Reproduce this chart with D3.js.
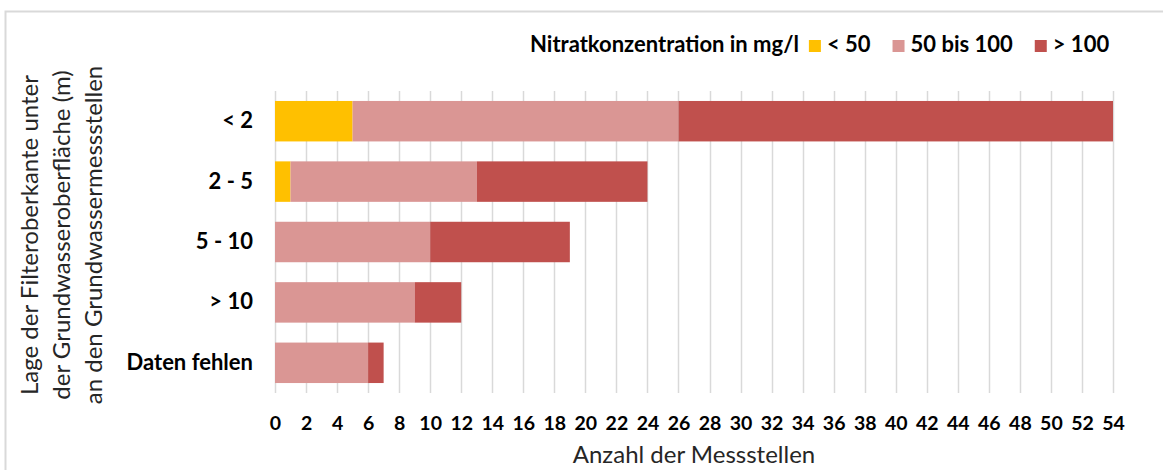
<!DOCTYPE html>
<html>
<head>
<meta charset="utf-8">
<script src="https://cdn.jsdelivr.net/npm/d3@7"></script>
<style>
  body { margin: 0; background: #fff; }
  svg { display: block; font-family: Lato, "Open Sans", sans-serif; }
</style>
</head>
<body>
<div id="chart"></div>
<script>
// categories (top to bottom)
var categories = ["< 2", "2 - 5", "5 - 10", "> 10", "Daten fehlen"];
// series: Nitratkonzentration in mg/l
var seriesNames = ["< 50", "50 bis 100", "> 100"];
var below50 = [5, 1, 0, 0, 0];
var from50to100 = [21, 12, 10, 9, 6];
var above100 = [28, 11, 9, 3, 1];
var xTicks = d3.range(0, 55, 2);
var colors = ["#FFC000", "#DA9694", "#C0504D"];

var W = 1163, H = 470;
var margin = { top: 91, right: 50, bottom: 77, left: 275 };
var width = W - margin.left - margin.right;
var height = H - margin.top - margin.bottom;

var data = categories.map(function (c, i) {
    return { cat: c, s0: below50[i], s1: from50to100[i], s2: above100[i] };
});

var svg = d3.select("#chart").append("svg")
    .attr("width", W)
    .attr("height", H);

// chart border (Excel-style frame)
svg.append("rect")
    .attr("x", 5.5).attr("y", 11.5)
    .attr("width", W + 10).attr("height", H + 10)
    .attr("fill", "none")
    .attr("stroke", "#d9d9d9")
    .attr("stroke-width", 2);

var g = svg.append("g")
    .attr("transform", "translate(" + margin.left + "," + margin.top + ")");

var x = d3.scaleLinear().domain([0, 54]).range([0, width]);
var y = d3.scaleBand().domain(categories).range([0, height]).paddingInner(0.33).paddingOuter(0.165);

// gridlines
g.selectAll(".grid")
    .data(xTicks)
    .enter().append("line")
    .attr("class", "grid")
    .attr("x1", function (d) { return Math.round(x(d)) + 0.5; })
    .attr("x2", function (d) { return Math.round(x(d)) + 0.5; })
    .attr("y1", 0)
    .attr("y2", height)
    .attr("stroke", "#d9d9d9")
    .attr("stroke-width", 1.5);

var stack = d3.stack().keys(["s0", "s1", "s2"]);
var layers = stack(data);

g.selectAll(".layer")
    .data(layers)
    .enter().append("g")
    .attr("class", "layer")
    .attr("fill", function (d, i) { return colors[i]; })
    .selectAll("rect")
    .data(function (d) { return d; })
    .enter().append("rect")
    .attr("x", function (d) { return x(d[0]); })
    .attr("width", function (d) { return x(d[1]) - x(d[0]); })
    .attr("y", function (d) { return y(d.data.cat); })
    .attr("height", y.bandwidth());

// x axis labels
var xaxis = g.append("g")
    .attr("transform", "translate(0," + height + ")")
    .call(d3.axisBottom(x).tickValues(xTicks).tickSize(0).tickPadding(23));
xaxis.select(".domain").remove();
xaxis.selectAll("text")
    .style("font-family", "Lato, sans-serif")
    .style("font-size", "19.5px")
    .style("font-weight", "bold")
    .attr("fill", "#000");

// y axis labels
var yaxis = g.append("g")
    .call(d3.axisLeft(y).tickSize(0).tickPadding(22));
yaxis.select(".domain").remove();
yaxis.selectAll("text")
    .style("font-family", "Lato, sans-serif")
    .style("font-size", "22px")
    .style("font-weight", "bold")
    .attr("fill", "#000");

// x axis title
svg.append("text")
    .attr("x", margin.left + width / 2)
    .attr("y", 463)
    .attr("text-anchor", "middle")
    .style("font-size", "24px")
    .attr("fill", "#262626")
    .text("Anzahl der Messstellen");

// y axis title (three lines)
var yTitle = ["Lage der Filteroberkante unter", "der Grundwasseroberfläche (m)", "an den Grundwassermessstellen"];
svg.selectAll(".ytitle")
    .data(yTitle)
    .enter().append("text")
    .attr("class", "ytitle")
    .attr("transform", function (d, i) { return "translate(" + (38 + i * 32) + ",235) rotate(-90)"; })
    .attr("text-anchor", "middle")
    .style("font-size", "24px")
    .attr("fill", "#262626")
    .text(function (d) { return d; });

// legend
var legend = svg.append("g").attr("transform", "translate(0,52)");
var lt = legend.append("text")
    .attr("x", 530)
    .style("font-size", "22px")
    .style("font-weight", "bold")
    .attr("fill", "#000")
    .text("Nitratkonzentration in mg/l");
var lx = 530 + lt.node().getComputedTextLength() + 10;
seriesNames.forEach(function (name, i) {
    legend.append("rect")
        .attr("x", lx).attr("y", -12)
        .attr("width", 12).attr("height", 12)
        .attr("fill", colors[i]);
    var t = legend.append("text")
        .attr("x", lx + 18)
        .style("font-size", "22px")
        .style("font-weight", "bold")
        .attr("fill", "#000")
        .text(name);
    lx = lx + 18 + t.node().getComputedTextLength() + 22;
});
</script>
</body>
</html>
